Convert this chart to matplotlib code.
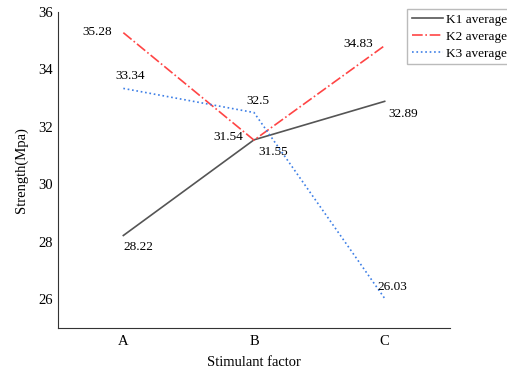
import matplotlib.pyplot as plt

plt.rcParams['font.family'] = ['Liberation Serif', 'DejaVu Serif']

factors = ['A', 'B', 'C']
k1 = [28.22, 31.55, 32.89]
k2 = [35.28, 31.54, 34.83]
k3 = [33.34, 32.5, 26.03]

# label offsets (pixels) for each point
off1 = [(15, -12), (19, -12), (19, -13)]
off2 = [(-26, 1), (-26, 3), (-26, 2)]
off3 = [(7, 12), (4, 12), (8, 11)]

fig = plt.figure(figsize=(5.07, 3.73), dpi=100)
ax = fig.add_axes([58/507, 45/373, (450-58)/507, (328-12)/373])
x = range(len(factors))
ax.plot(x, k1, color='#555555', lw=1.2, ls='-', label='K1 average')
ax.plot(x, k2, color='#ff4545', lw=1.2, ls='-.', label='K2 average')
ax.plot(x, k3, color='#3d7fe6', lw=1.2, ls=':', label='K3 average')

for vals, offs in [(k1, off1), (k2, off2), (k3, off3)]:
    for i, v in enumerate(vals):
        ax.annotate(str(v), (i, v), xytext=offs[i], textcoords='offset pixels',
                    ha='center', va='center', fontsize=9.5)

ax.set_xlim(-0.5, 2.5)
ax.set_ylim(25, 36)
ax.set_xticks(list(x))
ax.set_xticklabels(factors)
ax.set_yticks([26, 28, 30, 32, 34, 36])
ax.tick_params(length=0, labelsize=10.5)
ax.tick_params(axis='x', pad=5)
ax.tick_params(axis='y', pad=4)
ax.spines['top'].set_visible(False)
ax.spines['right'].set_visible(False)
ax.spines['left'].set_color('#333333')
ax.spines['bottom'].set_color('#333333')
ax.set_xlabel('Stimulant factor', fontsize=10.5, labelpad=6)
ax.set_ylabel('Strength(Mpa)', fontsize=10.5, labelpad=7)

fig.legend(loc='upper left', bbox_to_anchor=(407/507, 1 - 9/373), fontsize=9.5,
           frameon=True, fancybox=False, edgecolor='#aaaaaa', handlelength=2.4,
           borderpad=0.35, labelspacing=0.35, handletextpad=0.2, borderaxespad=0)

fig.savefig('out.png', dpi=100)
